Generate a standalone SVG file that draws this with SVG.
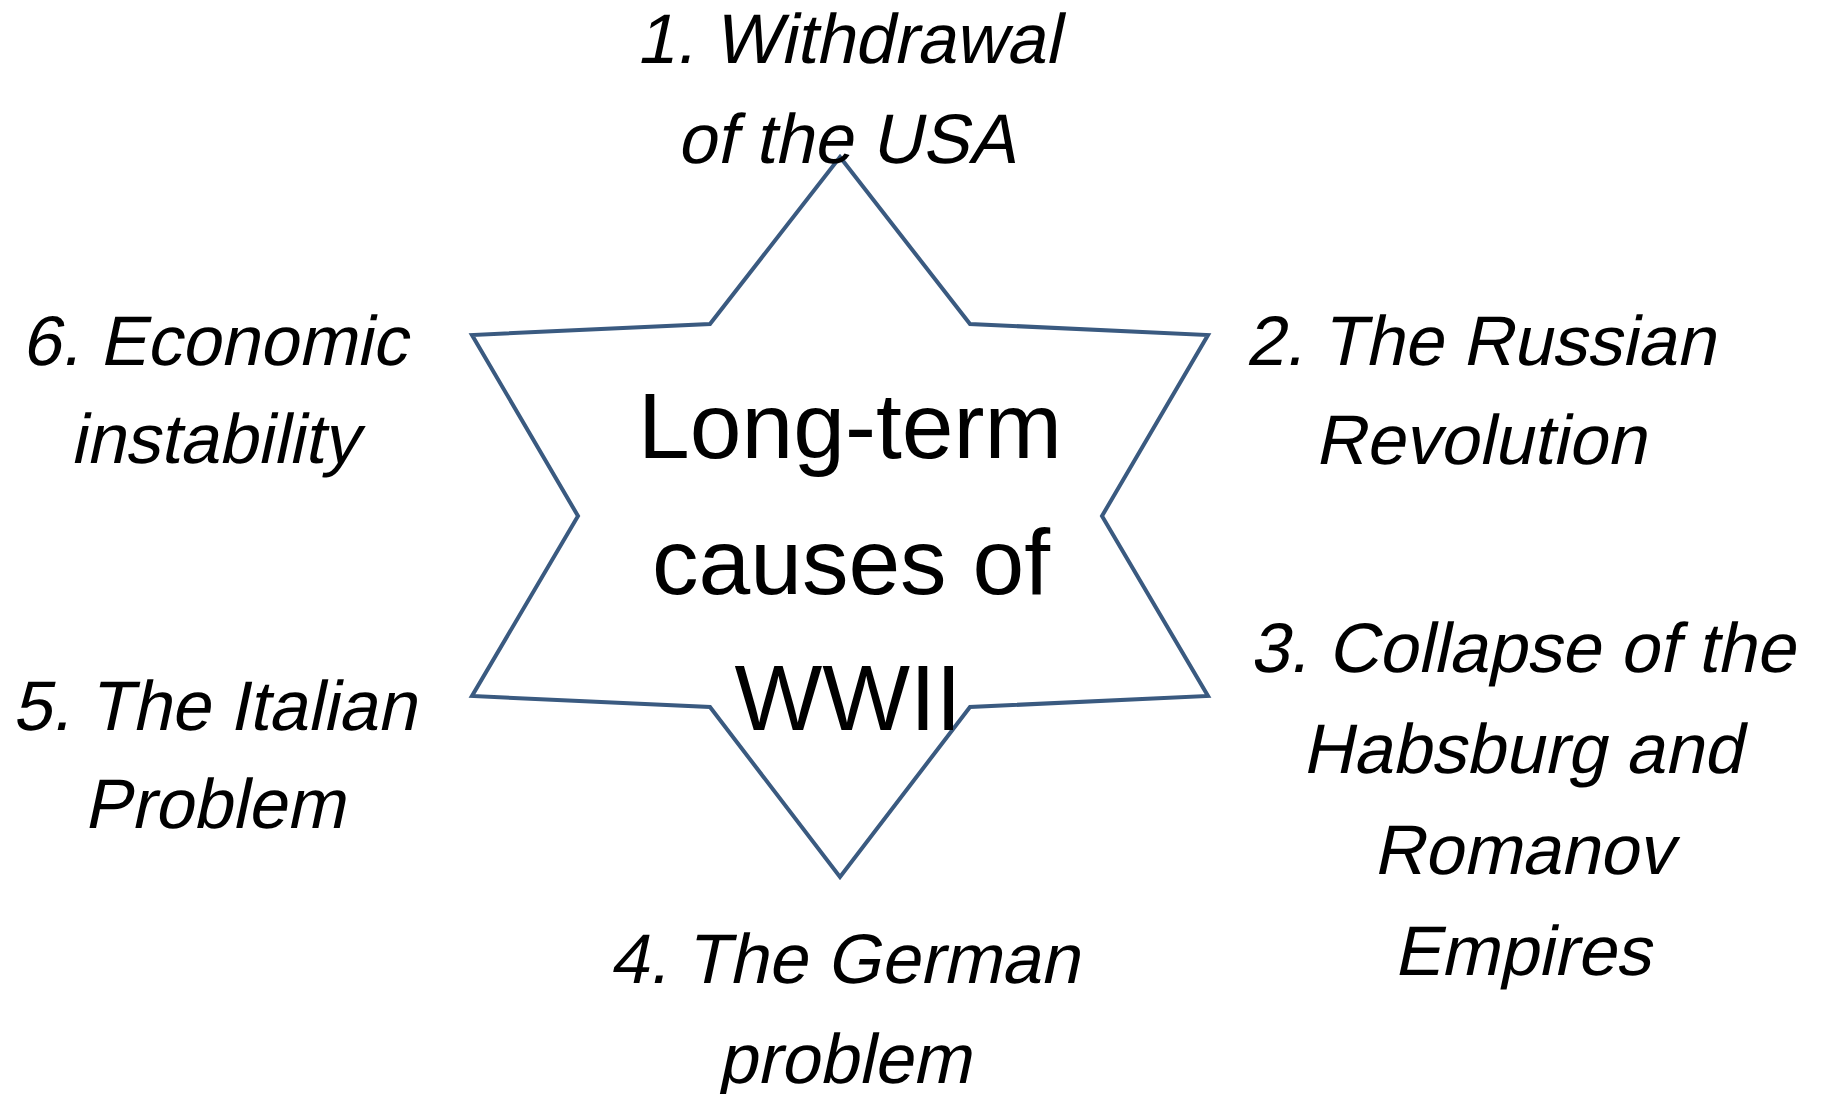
<svg xmlns="http://www.w3.org/2000/svg" width="1823" height="1094" viewBox="0 0 1823 1094">
<style>
.lbl{font-family:"Liberation Sans",Arial,sans-serif;font-size:70px;fill:#000;text-anchor:middle}
.ctr{font-family:"Liberation Sans",Arial,sans-serif;font-size:93px;fill:#000;text-anchor:middle}
.star{fill:#fff;stroke:#3a5a80;stroke-width:4;stroke-linejoin:miter}
</style>
<rect width="1823" height="1094" fill="#fff"/>
<g id="connectors"></g>
<g id="star-node">
<polygon class="star" points="840,157 970,324 1208,335 1102,516 1208,696 970,707 840,877 710,707 472,696 578,516 472,335 710,324"/>
<text class="ctr" x="850" y="458">Long-term</text>
<text class="ctr" x="851" y="594">causes of</text>
<text class="ctr" x="848" y="730">WWII</text>
</g>
<g id="cause1">
<text class="lbl" transform="translate(848,63) skewX(-12)">1. Withdrawal</text>
<text class="lbl" transform="translate(846,163) skewX(-12)">of the USA</text>
</g>
<g id="cause2">
<text class="lbl" transform="translate(1480,365) skewX(-12)">2. The Russian</text>
<text class="lbl" transform="translate(1480,464) skewX(-12)">Revolution</text>
</g>
<g id="cause3">
<text class="lbl" transform="translate(1522,672) skewX(-12)">3. Collapse of the</text>
<text class="lbl" transform="translate(1522,773) skewX(-12)">Habsburg and</text>
<text class="lbl" transform="translate(1523,874) skewX(-12)">Romanov</text>
<text class="lbl" transform="translate(1522,975) skewX(-12)">Empires</text>
</g>
<g id="cause4">
<text class="lbl" transform="translate(844,983) skewX(-12)">4. The German</text>
<text class="lbl" transform="translate(844,1083) skewX(-12)">problem</text>
</g>
<g id="cause5">
<text class="lbl" transform="translate(214,730) skewX(-12)">5. The Italian</text>
<text class="lbl" transform="translate(214,828) skewX(-12)">Problem</text>
</g>
<g id="cause6">
<text class="lbl" transform="translate(214,365) skewX(-12)">6. Economic</text>
<text class="lbl" transform="translate(214,463) skewX(-12)">instability</text>
</g>
</svg>
